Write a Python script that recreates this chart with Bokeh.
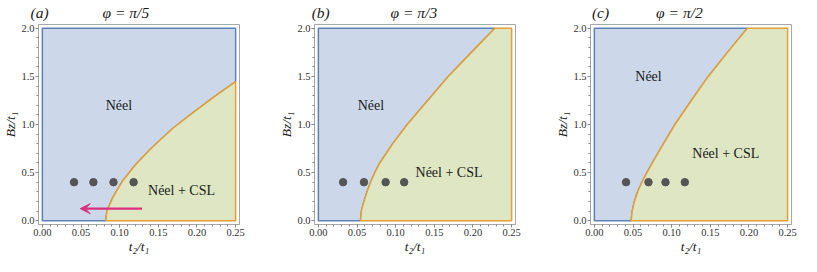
from bokeh.plotting import figure
from bokeh.layouts import row
from bokeh.models import (FixedTicker, PrintfTickFormatter, Label, Arrow, VeeHead, Range1d,
                          LinearAxis)
from bokeh.embed import file_html
from bokeh.resources import INLINE

# ---------------- data ----------------
panel_tags = ["(a)", "(b)", "(c)"]
panel_titles = ["φ = π/5", "φ = π/3", "φ = π/2"]
x_label = "t₂/t₁"
y_label = "Bz/t₁"

# phase boundary (t2/t1, Bz/t1)
curve_a_t2 = [0.0820, 0.0836, 0.0910, 0.1033, 0.1197, 0.1402, 0.1689, 0.1975, 0.2235, 0.2500]
curve_a_B = [0.000, 0.102, 0.239, 0.407, 0.574, 0.748, 0.961, 1.140, 1.295, 1.446]

curve_b_t2 = [0.0545, 0.0557, 0.0590, 0.0630, 0.0675, 0.0730, 0.0795, 0.0962, 0.1150,
              0.1415, 0.1680, 0.1980, 0.2283]
curve_b_B = [0.00, 0.10, 0.20, 0.30, 0.40, 0.50, 0.60, 0.80, 1.00, 1.25, 1.50, 1.75, 2.00]

curve_c_t2 = [0.0476, 0.0490, 0.0518, 0.0560, 0.0615, 0.0680, 0.0750, 0.0895, 0.1043,
              0.1255, 0.1474, 0.1722, 0.1979]
curve_c_B = [0.00, 0.10, 0.20, 0.30, 0.40, 0.50, 0.60, 0.80, 1.00, 1.25, 1.50, 1.75, 2.00]

dots_a_t2 = [0.041, 0.066, 0.092, 0.118]
dots_b_t2 = [0.032, 0.059, 0.087, 0.111]
dots_c_t2 = [0.041, 0.070, 0.092, 0.117]
dots_B = [0.4, 0.4, 0.4, 0.4]

arrow_t2 = [0.129, 0.049]   # start, end
arrow_B = 0.125

t2_max = 0.25
B_max = 2.0

neel_label_pos = [(0.099, 1.20), (0.068, 1.20), (0.070, 1.50)]
csl_label_pos = [(0.180, 0.31), (0.169, 0.50), (0.170, 0.70)]
title_pos = [0.108, 0.1235, 0.110]     # centre of the φ title (t2 units)
tag_pos = [-0.0035, 0.0030, 0.0080]    # centre of the (a)/(b)/(c) tag (t2 units)

x_ticks = [0.0, 0.05, 0.10, 0.15, 0.20, 0.25]
x_minor = [i / 100 for i in range(0, 26)]
y_ticks = [0.0, 0.5, 1.0, 1.5, 2.0]
y_minor = [i / 10 for i in range(0, 21)]

curves = [(curve_a_t2, curve_a_B), (curve_b_t2, curve_b_B), (curve_c_t2, curve_c_B)]
dots = [dots_a_t2, dots_b_t2, dots_c_t2]

# ---------------- style ----------------
FONT = "Liberation Serif"
BLUE_FILL = "#ccd8ea"
BLUE_LINE = "#5e81b5"
GREEN_FILL = "#dee6c3"
ORANGE_LINE = "#e5a030"
DOT = "#555555"
MAGENTA = "#d9307e"
TXT = "#1a1a1a"
FRAME = "#a8a8a8"

XR = (-0.005, 0.255)
YR = (-0.04, 2.04)
H = 256
BL = 36
FW = 203
right_borders = [37, 37, 10]


def make_panel(i):
    w = BL + FW + right_borders[i]
    p = figure(width=w, height=H, x_range=Range1d(*XR), y_range=Range1d(*YR),
               output_backend="svg", toolbar_location=None,
               min_border_left=BL, min_border_right=right_borders[i],
               min_border_top=0, min_border_bottom=0)
    p.grid.visible = False
    p.outline_line_color = FRAME
    p.outline_line_width = 1
    p.background_fill_color = "white"
    p.border_fill_color = "white"

    for ax, ticks, minor, fmt in ((p.xaxis[0], x_ticks, x_minor, "%.2f"),
                                  (p.yaxis[0], y_ticks, y_minor, "%.1f")):
        ax.ticker = FixedTicker(ticks=ticks, minor_ticks=minor)
        ax.formatter = PrintfTickFormatter(format=fmt)
        ax.major_label_text_font = FONT
        ax.major_label_text_font_size = "10.5px"
        ax.major_label_text_color = "#333333"
        ax.major_tick_out = 3
        ax.major_tick_in = 0
        ax.minor_tick_out = 2
        ax.minor_tick_in = 0
        ax.major_tick_line_color = "#888888"
        ax.minor_tick_line_color = "#888888"
        ax.axis_line_color = FRAME
        ax.major_label_standoff = 1
        ax.axis_label_text_font = FONT
        ax.axis_label_text_font_size = "13.5px"
        ax.axis_label_text_font_style = "italic"
        ax.axis_label_text_color = TXT
        ax.axis_label_standoff = 0

    p.xaxis[0].axis_label = x_label
    p.yaxis[0].axis_label = y_label

    # panel titles as tick labels of an unlined axis above the frame
    top = LinearAxis(ticker=FixedTicker(ticks=[tag_pos[i], title_pos[i]]),
                     major_label_overrides={tag_pos[i]: panel_tags[i],
                                            title_pos[i]: panel_titles[i]},
                     axis_line_color=None, major_tick_line_color=None,
                     minor_tick_line_color=None, major_tick_out=0, minor_tick_out=0,
                     major_label_standoff=4, major_label_text_font=FONT,
                     major_label_text_font_size="15.5px",
                     major_label_text_font_style="italic", major_label_text_color=TXT)
    p.add_layout(top, "above")

    ct, cb = curves[i]
    if cb[-1] < B_max:
        bx = [0.0] + ct + [t2_max, 0.0]
        by = [0.0] + cb + [B_max, B_max]
        gx = ct + [t2_max]
        gy = cb + [0.0]
    else:
        bx = [0.0] + ct + [0.0]
        by = [0.0] + cb + [B_max]
        gx = ct + [t2_max, t2_max]
        gy = cb + [B_max, 0.0]
    p.patch(bx, by, fill_color=BLUE_FILL, line_color=BLUE_LINE, line_width=1.5)
    p.patch(gx, gy, fill_color=GREEN_FILL, line_color=ORANGE_LINE, line_width=1.5)

    p.scatter(dots[i], dots_B, size=7.5, color=DOT)

    if i == 0:
        p.add_layout(Arrow(end=VeeHead(size=10, fill_color=MAGENTA, line_color=MAGENTA),
                           x_start=arrow_t2[0], y_start=arrow_B,
                           x_end=arrow_t2[1], y_end=arrow_B,
                           line_color=MAGENTA, line_width=2.2))

    nx, ny = neel_label_pos[i]
    p.add_layout(Label(x=nx, y=ny, text="Néel", text_font=FONT, text_font_size="14px",
                       text_color=TXT, text_align="center", text_baseline="middle"))
    cx, cy = csl_label_pos[i]
    p.add_layout(Label(x=cx, y=cy, text="Néel + CSL", text_font=FONT, text_font_size="14px",
                       text_color=TXT, text_align="center", text_baseline="middle"))
    return p


layout = row(*[make_panel(i) for i in range(3)])
open("out.html", "w").write(file_html(layout, INLINE))
